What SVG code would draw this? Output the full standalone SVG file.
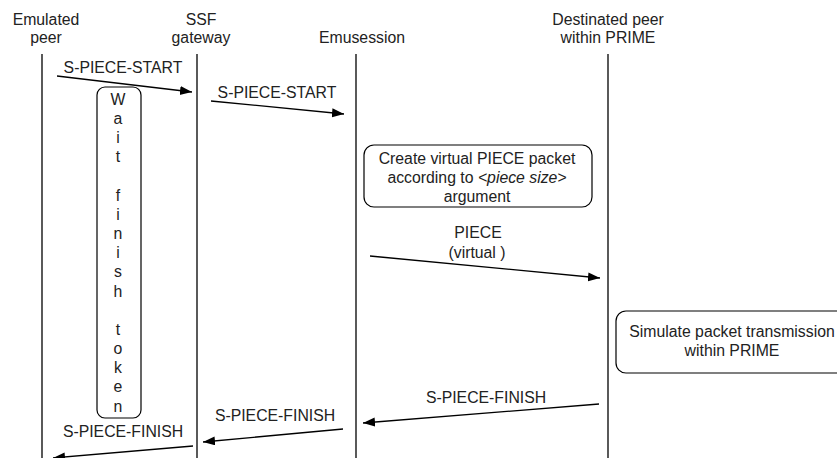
<svg xmlns="http://www.w3.org/2000/svg" width="837" height="458" viewBox="0 0 837 458">
<style>
text{font-family:"Liberation Sans",Arial,sans-serif;font-size:15.8px;fill:#222;text-anchor:middle}
.life{stroke:#000;stroke-width:1.3;fill:none}
.msg{stroke:#000;stroke-width:1.3;fill:none;marker-end:url(#ah)}
.box{fill:#fff;stroke:#000;stroke-width:1.2}
</style>
<defs>
<marker id="ah" markerUnits="userSpaceOnUse" markerWidth="13" markerHeight="10" refX="12" refY="4.5" orient="auto">
<path d="M0,0 L12,4.5 L0,9 z" fill="#000"/>
</marker>
</defs>
<g id="emulated-peer">
<text x="46" y="25">Emulated</text>
<text x="46" y="43">peer</text>
<line class="life" x1="42" y1="54" x2="42" y2="458"/>
</g>
<g id="ssf-gateway">
<text x="201" y="25">SSF</text>
<text x="201" y="43">gateway</text>
<line class="life" x1="197" y1="54" x2="197" y2="458"/>
</g>
<g id="emusession">
<text x="362" y="43">Emusession</text>
<line class="life" x1="356" y1="54" x2="356" y2="458"/>
</g>
<g id="destinated-peer">
<text x="608" y="25">Destinated peer</text>
<text x="608" y="43">within PRIME</text>
<line class="life" x1="608" y1="54" x2="608" y2="458"/>
</g>
<g id="wait-finish-token">
<rect class="box" x="97" y="87" width="44" height="331" rx="8"/>
<text x="118" y="105">W</text>
<text x="118" y="124">a</text>
<text x="118" y="143">i</text>
<text x="118" y="162">t</text>
<text x="118" y="201">f</text>
<text x="118" y="220">i</text>
<text x="118" y="239">n</text>
<text x="118" y="258">i</text>
<text x="118" y="277">s</text>
<text x="118" y="297">h</text>
<text x="118" y="335">t</text>
<text x="118" y="354">o</text>
<text x="118" y="373">k</text>
<text x="118" y="392">e</text>
<text x="118" y="412">n</text>
</g>
<g id="create-virtual-piece">
<rect class="box" x="364" y="145" width="228" height="62" rx="10"/>
<text x="477" y="164">Create virtual PIECE packet</text>
<text x="477" y="183">according to <tspan font-style="italic">&lt;piece size&gt;</tspan></text>
<text x="477" y="202">argument</text>
</g>
<g id="simulate-transmission">
<rect class="box" x="616" y="311" width="240" height="62" rx="10"/>
<text x="732" y="337">Simulate packet transmission</text>
<text x="732" y="356">within PRIME</text>
</g>
<g id="connectors">
<line class="msg" x1="57" y1="76" x2="192" y2="92"/>
<text x="123" y="73">S-PIECE-START</text>
<line class="msg" x1="211" y1="101" x2="344" y2="114"/>
<text x="277" y="98">S-PIECE-START</text>
<line class="msg" x1="370" y1="256" x2="600" y2="278"/>
<text x="478" y="238">PIECE</text>
<text x="477" y="258">(virtual )</text>
<line class="msg" x1="599" y1="404" x2="363" y2="423"/>
<text x="486" y="403">S-PIECE-FINISH</text>
<line class="msg" x1="343" y1="429" x2="203" y2="442"/>
<text x="275" y="421">S-PIECE-FINISH</text>
<line class="msg" x1="193" y1="446" x2="53" y2="458"/>
<text x="123" y="437">S-PIECE-FINISH</text>
</g>
</svg>
